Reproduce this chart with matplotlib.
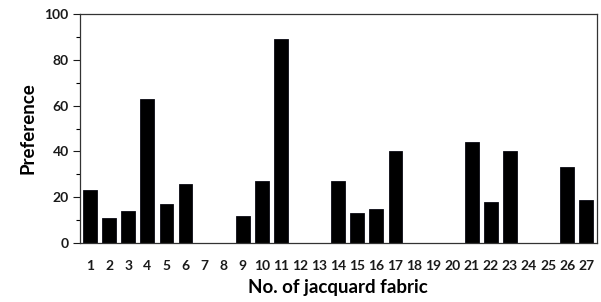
import matplotlib
matplotlib.use("Agg")
import matplotlib.pyplot as plt
from matplotlib.ticker import MultipleLocator

fabric_numbers = list(range(1, 28))
preference = [23, 11, 14, 63, 17, 26, 0, 0, 12, 27, 89, 0, 0, 27, 13, 15, 40,
              0, 0, 0, 44, 18, 40, 0, 0, 33, 19]
x_tick_labels = [str(n) for n in fabric_numbers]
y_ticks = [0, 20, 40, 60, 80, 100]

plt.rcParams['font.family'] = ['Lato', 'DejaVu Sans']
plt.rcParams['font.weight'] = 'bold'

fig = plt.figure(figsize=(6.01, 3.02), dpi=100)
ax = fig.add_axes([0.133, 0.195, 0.860, 0.759])

ax.bar(fabric_numbers, preference, width=0.72, color='black', edgecolor='#0a0a14', linewidth=0.6)

ax.set_xlim(0.47, 27.55)
ax.set_ylim(0, 100)
ax.set_yticks(y_ticks)
ax.yaxis.set_minor_locator(MultipleLocator(10))
ax.set_xticks(fabric_numbers)
ax.set_xticklabels(x_tick_labels)

ax.tick_params(axis='x', length=0, pad=12, labelsize=10, colors='#1a1a1a')
ax.tick_params(axis='y', which='major', length=5, width=0.8, direction='out', pad=3,
               labelsize=10, colors='#1a1a1a')
ax.tick_params(axis='y', which='minor', length=3, width=0.8, direction='out')
for lab in ax.get_xticklabels() + ax.get_yticklabels():
    lab.set_fontweight('bold')

for side in ['left', 'right', 'top', 'bottom']:
    ax.spines[side].set_linewidth(0.9)
    ax.spines[side].set_color('#333333')

ax.set_xlabel('No. of jacquard fabric', fontsize=13.5, fontweight='bold', labelpad=5)
ax.set_ylabel('Preference', fontsize=13.5, fontweight='bold', labelpad=6)

fig.savefig('out.png', dpi=100)
